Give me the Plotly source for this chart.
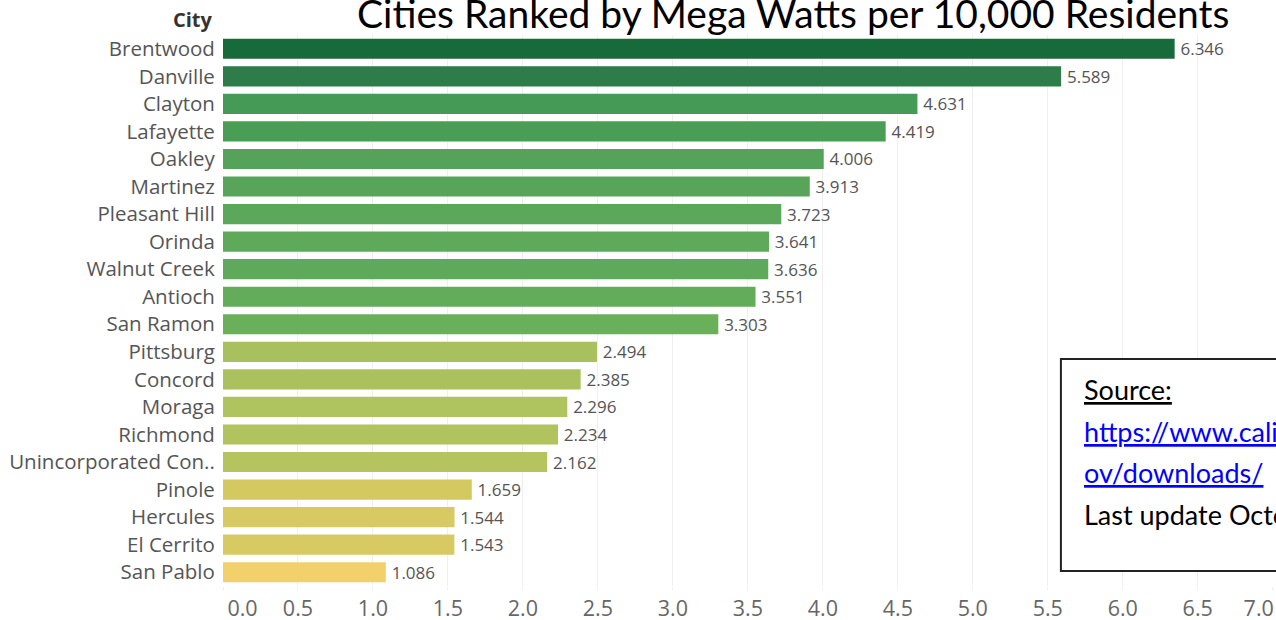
import plotly.graph_objects as go

cities = ["Brentwood", "Danville", "Clayton", "Lafayette", "Oakley", "Martinez",
          "Pleasant Hill", "Orinda", "Walnut Creek", "Antioch", "San Ramon",
          "Pittsburg", "Concord", "Moraga", "Richmond", "Unincorporated Con..",
          "Pinole", "Hercules", "El Cerrito", "San Pablo"]
mw_per_10k = [6.346, 5.589, 4.631, 4.419, 4.006, 3.913, 3.723, 3.641, 3.636, 3.551,
              3.303, 2.494, 2.385, 2.296, 2.234, 2.162, 1.659, 1.544, 1.543, 1.086]
bar_colors = ["#176b3a", "#2d7c49", "#459a55", "#4a9d55", "#55a35a", "#58a55a",
              "#5ba85a", "#5eaa5a", "#5eaa5a", "#62ac5a", "#6ab05b",
              "#a8c05e", "#abc15e", "#afc35e", "#b1c35e", "#b5c45e",
              "#d4c860", "#d8ca62", "#d8ca62", "#f2d06a"]
tick_vals = [0.0, 0.5, 1.0, 1.5, 2.0, 2.5, 3.0, 3.5, 4.0, 4.5, 5.0, 5.5, 6.0, 6.5, 7.0]
tick_text = ["0.0", "0.5", "1.0", "1.5", "2.0", "2.5", "3.0", "3.5", "4.0", "4.5",
             "5.0", "5.5", "6.0", "6.5", "7.0"]
title_text = "Cities Ranked by Mega Watts per 10,000 Residents"

NB = "\u00a0"
tick_text_disp = list(tick_text)
tick_text_disp[0] = NB * 7 + tick_text[0]
tick_text_disp[-1] = tick_text[-1] + NB * 5

fig = go.Figure(go.Bar(
    x=mw_per_10k, y=cities, orientation="h",
    marker=dict(color=bar_colors, line=dict(width=0)),
    text=["\u2009" + f"{v:.3f}" for v in mw_per_10k], textposition="outside",
    textfont=dict(family="Open Sans", size=17, color="#555555"),
    constraintext="none",
    cliponaxis=False, width=0.73,
))

fig.update_layout(
    width=1276, height=620,
    margin=dict(l=223, r=3, t=35, b=34),
    paper_bgcolor="white", plot_bgcolor="white",
    showlegend=False,
    xaxis=dict(range=[0, 7.002], tickvals=tick_vals, ticktext=tick_text_disp,
               showgrid=True, gridcolor="#efefef", gridwidth=1, zeroline=False,
               ticks="outside", ticklen=3, tickcolor="#efefef",
               ticklabelstandoff=0, ticklabeloverflow="allow", automargin=False,
               tickfont=dict(family="Open Sans", size=21.5, color="#666666"),
               showline=False, fixedrange=True),
    yaxis=dict(autorange="reversed", showgrid=False, zeroline=False,
               ticks="outside", ticklen=3, tickcolor="rgba(0,0,0,0)",
               automargin=False,
               tickfont=dict(family="Open Sans", size=20.5, color="#555555"),
               showline=False),
)

fig.add_annotation(text="<b>City</b>", xref="paper", yref="paper", x=-0.0076, y=1.028,
                   xanchor="right", yanchor="middle", showarrow=False,
                   font=dict(family="Open Sans", size=20, color="#333333"))
fig.add_annotation(text=title_text, xref="paper", yref="paper", x=0.543, y=1.040,
                   xanchor="center", yanchor="middle", showarrow=False,
                   font=dict(family="Lato", size=39, color="#000000"))

fig.add_shape(type="rect", xref="paper", yref="paper", x0=0.798, x1=1.1,
              y0=0.0272, y1=0.412, line=dict(color="#222222", width=2),
              fillcolor="white", layer="above")
src_lines = ["<u>Source:</u>",
             "<span style='color:#0000ff'><u>https://www.californiadgstats.ca.g</u></span>",
             "<span style='color:#0000ff'><u>ov/downloads/</u></span>",
             "Last update October"]
src_py = [389, 431, 472, 514]
for line, py in zip(src_lines, src_py):
    fig.add_annotation(text=line, xref="paper", yref="paper",
                       x=(1082 - 223) / 1050, y=(586 - py) / 551,
                       xanchor="left", yanchor="middle", showarrow=False,
                       font=dict(family="Lato", size=27, color="#000000"))

fig.write_html("out.html", config={"displayModeBar": False},
               post_script="document.body.style.margin='0';")
